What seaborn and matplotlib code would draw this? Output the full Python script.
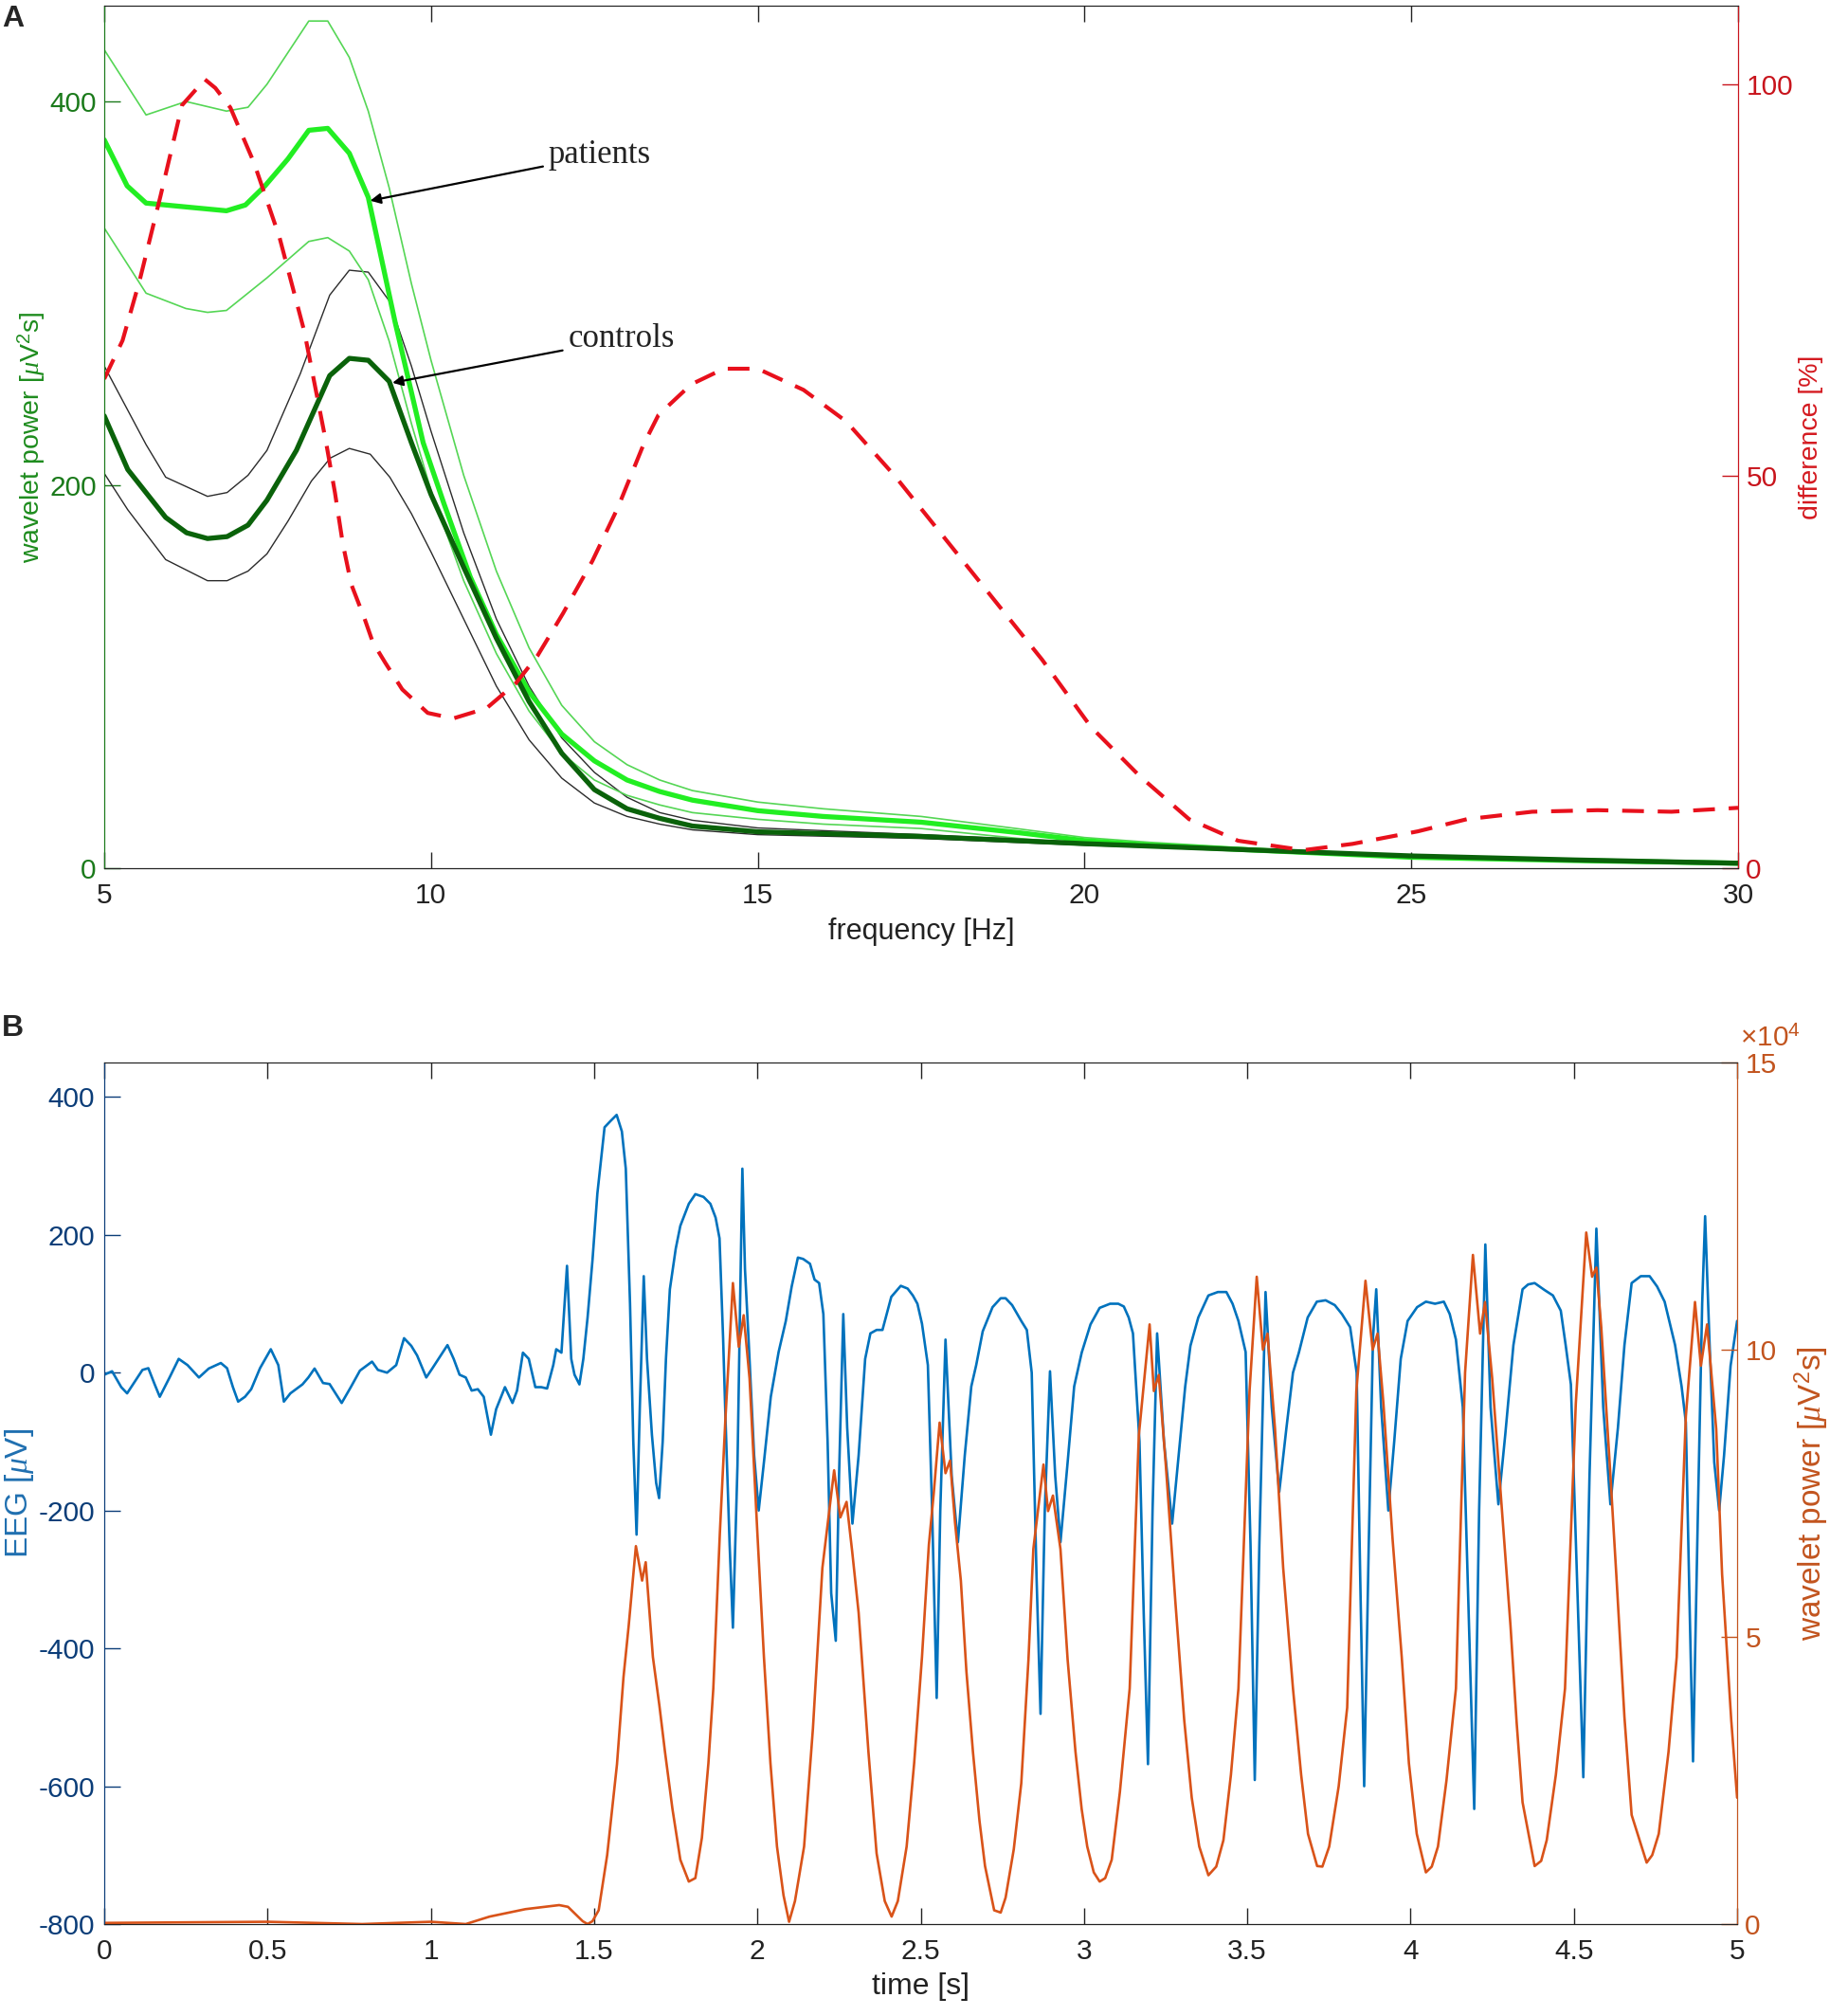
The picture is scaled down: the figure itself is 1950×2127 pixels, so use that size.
import seaborn as sns
import matplotlib.pyplot as plt
import numpy as np

# ---- panel A data: wavelet power spectra ----
pu_f = [5, 5.64, 6.25, 6.87, 7.2, 7.49, 8.13, 8.42, 8.75, 9.04, 9.36, 9.7, 10.0, 10.5, 11.0, 11.5, 12.0, 12.5, 13.0, 13.5, 14.0,
        15, 16, 17.5, 19, 20, 21, 22.5, 25, 27.5, 30]
pu_p = [427, 393, 400, 395, 397, 409, 442, 442, 423, 395, 355, 305, 265, 205, 155, 115, 85, 66, 54, 46, 40.5,
        34.5, 31, 27, 20.5, 16, 13.5, 10.5, 6, 4.2, 2.8]

pm_f = [5, 5.35, 5.64, 6.25, 6.87, 7.16, 7.46, 7.81, 8.13, 8.42, 8.75, 9.04, 9.45, 9.88, 10.2, 10.6, 11.0, 11.5, 12.0, 12.5,
        13.0, 13.5, 14.0, 15, 16, 17.5, 19, 20, 21, 22.5, 25, 27.5, 30]
pm_p = [380, 356, 347, 345, 343, 346, 356, 370, 385, 386, 373, 350, 285, 222, 190, 152, 122, 92, 70, 56,
        46, 40, 35.5, 30, 27, 24, 18.5, 14.4, 12, 9.6, 5.7, 4, 2.6]

pl_f = [5, 5.64, 6.25, 6.58, 6.87, 7.49, 8.13, 8.42, 8.75, 9.04, 9.36, 9.7, 10.0, 10.5, 11.0, 11.5, 12.0, 12.5, 13.0, 13.5,
        14.0, 15, 16, 17.5, 19, 20, 21, 22.5, 25, 27.5, 30]
pl_p = [334, 300, 292, 290, 291, 308, 327, 329, 322, 307, 275, 232, 197, 150, 112, 82, 60, 46, 38, 33,
        29, 25.5, 23, 20.7, 15.5, 12.8, 11, 9, 5.5, 3.8, 2.4]

cu_f = [5, 5.64, 5.94, 6.58, 6.88, 7.2, 7.49, 8.0, 8.45, 8.75, 9.04, 9.36, 9.7, 10.0, 10.5, 11.0, 11.5, 12.0, 12.5, 13.0,
        13.5, 14.0, 15, 17.5, 20, 22.5, 25, 27.5, 30]
cu_p = [262, 221, 204, 194, 196, 205, 218, 258, 299, 312, 311, 296, 262, 228, 175, 130, 95, 68, 50, 37,
        29, 25, 21, 17.5, 13.5, 10, 6.6, 4.5, 2.8]

cm_f = [5, 5.36, 5.94, 6.26, 6.58, 6.88, 7.2, 7.49, 7.94, 8.45, 8.75, 9.04, 9.36, 9.7, 10.0, 10.5, 11.0, 11.5, 12.0, 12.5,
        13.0, 13.5, 14.0, 15, 17.5, 20, 22.5, 25, 27.5, 30]
cm_p = [236, 208, 183, 175, 172, 173, 179, 192, 218, 257, 266, 265, 254, 222, 195, 157, 120, 87, 60, 41,
        31, 26, 22, 19, 16.6, 12.8, 9.6, 6.4, 4.3, 2.6]

cl_f = [5, 5.36, 5.94, 6.58, 6.88, 7.2, 7.49, 7.81, 8.17, 8.46, 8.75, 9.07, 9.37, 9.7, 10.0, 10.5, 11.0, 11.5, 12.0, 12.5,
        13.0, 13.5, 14.0, 15, 17.5, 20, 22.5, 25, 27.5, 30]
cl_p = [206, 187, 161, 150, 150, 155, 164, 181, 202, 214, 219, 216, 204, 185, 165, 130, 95, 67, 47, 34,
        27, 23, 20, 17.5, 15.5, 12, 9.2, 6.2, 4.1, 2.4]

diff_f = [5, 5.28, 5.54, 5.86, 6.19, 6.54, 6.70, 6.93, 7.29, 7.68, 8.06, 8.39, 8.53, 8.65, 8.78, 8.98, 9.11, 9.30, 9.56, 9.95,
          10.34, 10.85, 11.3, 11.63, 12.02, 12.47, 12.86, 13.25, 13.48, 13.98, 14.48, 15.0, 15.7, 16.35, 17.1, 17.85, 18.6,
          19.35, 20.1, 20.85, 21.6, 22.35, 23.35, 24.1, 25.1, 25.85, 26.85, 27.85, 28.98, 30]
diff_d = [62.4, 67.3, 74.9, 85.7, 97.3, 100.6, 99.5, 97, 90, 80.5, 68.5, 54.5, 47.9, 41.4, 36.2, 31.9, 28.8, 26.2, 22.8, 19.8,
          19.1, 20.4, 23.6, 27.1, 32.5, 39.2, 46, 54, 57.8, 61.7, 63.7, 63.7, 61, 57, 50, 42.2, 34.4,
          26.6, 18, 11.7, 6.25, 3.5, 2.3, 3.1, 4.7, 6.25, 7.2, 7.4, 7.2, 7.7]

# ---- panel B data: EEG trace (uV) ----
eeg_t = [0, 0.024, 0.052, 0.07, 0.117, 0.135, 0.154, 0.17, 0.2, 0.228, 0.255, 0.29, 0.32, 0.357, 0.376, 0.394, 0.41,
         0.431, 0.45, 0.477, 0.51, 0.533, 0.55, 0.57, 0.607, 0.625, 0.644, 0.67, 0.69, 0.727, 0.755, 0.783, 0.82,
         0.838, 0.866, 0.894, 0.918, 0.94, 0.958, 0.986, 1.005, 1.051, 1.07, 1.088, 1.107, 1.125, 1.144, 1.162, 1.184,
         1.2, 1.227, 1.25, 1.264, 1.282, 1.3, 1.32, 1.338, 1.356, 1.375, 1.384,
         1.40, 1.417, 1.43, 1.44, 1.455, 1.467, 1.48, 1.495, 1.51, 1.532, 1.55, 1.569, 1.585, 1.597, 1.61, 1.62, 1.630,
         1.64, 1.652, 1.662, 1.677, 1.69, 1.699, 1.71, 1.72, 1.732, 1.75, 1.764, 1.79, 1.81, 1.835, 1.856, 1.872, 1.884,
         1.895, 1.902, 1.915, 1.925, 1.932, 1.939, 1.947, 1.954, 1.962, 1.973, 1.99, 2.004, 2.02, 2.041, 2.065, 2.087,
         2.105, 2.124, 2.14, 2.161, 2.175, 2.189, 2.202, 2.215, 2.226, 2.24, 2.25, 2.263, 2.275, 2.291, 2.31, 2.33,
         2.346, 2.365, 2.383, 2.41, 2.439, 2.46, 2.476, 2.49, 2.504, 2.522, 2.535, 2.549, 2.56, 2.576, 2.595, 2.614,
         2.635, 2.655, 2.67, 2.69, 2.72, 2.745, 2.76, 2.78, 2.808, 2.825, 2.84, 2.855, 2.867, 2.88, 2.896, 2.912, 2.928,
         2.95, 2.97, 2.993, 3.02, 3.048, 3.08, 3.105, 3.122, 3.137, 3.15, 3.17, 3.183, 3.196, 3.21, 3.224, 3.245, 3.27,
         3.29, 3.31, 3.326, 3.35, 3.381, 3.41, 3.436, 3.455, 3.473, 3.495, 3.51, 3.523, 3.537, 3.556, 3.575, 3.598,
         3.62, 3.64, 3.658, 3.685, 3.713, 3.74, 3.768, 3.79, 3.815, 3.835, 3.846, 3.858, 3.872, 3.885, 3.895, 3.91,
         3.932, 3.95, 3.97, 3.991, 4.02, 4.047, 4.075, 4.102, 4.12, 4.139, 4.16, 4.178, 4.195, 4.21, 4.229, 4.245,
         4.269, 4.29, 4.315, 4.343, 4.36, 4.38, 4.41, 4.436, 4.46, 4.475, 4.491, 4.51, 4.529, 4.548, 4.569, 4.59,
         4.612, 4.635, 4.655, 4.677, 4.705, 4.732, 4.755, 4.778, 4.81, 4.83, 4.843, 4.855, 4.865, 4.88, 4.893, 4.902,
         4.915, 4.93, 4.945, 4.96, 4.98, 5.0]
eeg_v = [-3, 2, -21, -30, 4, 6.5, -16.5, -35, -7, 20, 11, -7, 6, 14, 6.5, -21, -42,
         -35, -24, 6.5, 34, 11, -42, -30, -17, -7, 6, -15, -16.5, -44, -21, 3, 16,
         4, 0, 11, 50, 39, 25, -7, 6.5, 40, 20, -3, -7, -26, -24, -35, -90,
         -53, -21, -44, -26, 29, 20, -21, -21, -23, 11, 34,
         29, 155, 20, -3, -17, 20, 80, 163, 260, 356, 365, 374, 350, 296, 100, -100, -235,
         -50, 140, 20, -90, -160, -182, -100, 20, 121, 180, 213, 245, 259, 255, 245, 225, 195,
         50, -62, -250, -370, -250, -135, 100, 296, 150, 48, -120, -200, -130, -35, 30, 75,
         125, 167, 165, 158, 135, 130, 85, -100, -320, -389, -150, 85, -80, -219, -120, 20,
         57, 62, 62, 110, 126, 122, 112, 100, 71, 11, -200, -472, -200, 48, -150, -246,
         -120, -20, 11, 60, 95, 108, 108, 98, 75, 62, 0, -300, -495, -200, 2, -150, -246,
         -130, -20, 29, 70, 94, 100, 100, 96, 80, 57, -100, -350, -568, -200, 57, -100, -219,
         -120, -20, 39, 80, 112, 117, 117, 100, 75, 30, -250, -591, -250, 117, -50, -173,
         -80, 0, 29, 80, 103, 105, 98, 85, 66, 0, -300, -600, -250, 50, 121, -50,
         -200, -100, 20, 75, 95, 103, 100, 103, 85, 48, -50, -350, -633, -200, 186, -50,
         -191, -90, 40, 121, 128, 130, 120, 112, 90, 40, -17, -300, -587, -150, 209, -50,
         -191, -80, 40, 130, 140, 140, 125, 103, 40, -20, -72, -350, -564, -200, 100, 227,
         50, -130, -200, -120, 10, 75]

# ---- panel B data: wavelet power (x 1e4 uV^2 s) ----
pow_t = [0, 0.25, 0.5, 0.79, 1.0, 1.107, 1.18, 1.29, 1.393, 1.42, 1.44, 1.465, 1.48, 1.495, 1.514, 1.54, 1.57, 1.59,
         1.606, 1.628, 1.647, 1.658, 1.68, 1.7, 1.717, 1.74, 1.764, 1.79, 1.81, 1.83, 1.85, 1.865, 1.885, 1.902, 1.925,
         1.943, 1.958, 1.976, 2.0, 2.02, 2.04, 2.06, 2.08, 2.097, 2.115, 2.143, 2.17, 2.199, 2.235, 2.254, 2.273, 2.29,
         2.31, 2.34, 2.365, 2.39, 2.411, 2.43, 2.457, 2.48, 2.504, 2.525, 2.54, 2.558, 2.576, 2.59, 2.605, 2.623, 2.64,
         2.66, 2.68, 2.697, 2.725, 2.745, 2.76, 2.785, 2.808, 2.83, 2.845, 2.876, 2.89, 2.905, 2.928, 2.95, 2.974,
         2.993, 3.01, 3.03, 3.048, 3.065, 3.085, 3.11, 3.14, 3.168, 3.201, 3.214, 3.229, 3.251, 3.28, 3.307, 3.33,
         3.353, 3.381, 3.405, 3.427, 3.45, 3.473, 3.507, 3.529, 3.548, 3.562, 3.585, 3.61, 3.64, 3.665, 3.686, 3.714,
         3.73, 3.751, 3.78, 3.806, 3.834, 3.862, 3.884, 3.899, 3.917, 3.945, 3.973, 3.995, 4.019, 4.047, 4.065, 4.084,
         4.11, 4.139, 4.167, 4.191, 4.213, 4.228, 4.25, 4.28, 4.306, 4.325, 4.343, 4.38, 4.4, 4.417, 4.445, 4.473,
         4.506, 4.538, 4.556, 4.569, 4.584, 4.61, 4.63, 4.655, 4.677, 4.723, 4.74, 4.76, 4.79, 4.815, 4.843, 4.871,
         4.889, 4.908, 4.936, 4.954, 4.982, 5.0]
pow_w = [0.02, 0.03, 0.04, 0.0, 0.04, 0.0, 0.13, 0.26, 0.33, 0.3, 0.19, 0.05, 0.0, 0.05, 0.24, 1.2, 2.78, 4.3,
         5.2, 6.58, 5.98, 6.3, 4.65, 3.8, 3.0, 2.0, 1.12, 0.74, 0.8, 1.5, 2.8, 4.1, 6.8, 8.79, 11.16,
         10.05, 10.6, 9.5, 6.8, 4.65, 2.8, 1.35, 0.5, 0.04, 0.4, 1.35, 3.4, 6.2, 7.9, 7.08, 7.35, 6.5,
         5.42, 3.0, 1.23, 0.4, 0.13, 0.4, 1.35, 2.8, 4.65, 6.6, 7.5, 8.73, 7.85, 8.07, 7.0, 5.98, 4.4,
         3.0, 1.8, 1.01, 0.24, 0.2, 0.46, 1.3, 2.45, 4.6, 6.53, 8.0, 7.19, 7.46, 6.53, 4.6, 3.0,
         2.0, 1.35, 0.9, 0.74, 0.8, 1.12, 2.3, 4.1, 8.51, 10.44, 9.28, 9.56, 7.96, 5.6, 3.55, 2.2,
         1.35, 0.85, 1.0, 1.46, 2.6, 4.1, 9.28, 11.27, 10.0, 10.28, 8.62, 6.2, 4.1, 2.6, 1.57, 1.01,
         1.0, 1.35, 2.4, 3.77, 9.28, 11.2, 10.0, 10.28, 9.06, 6.7, 4.65, 2.8, 1.57, 0.9, 1.0, 1.35,
         2.5, 4.1, 9.6, 11.65, 10.28, 10.83, 9.5, 7.2, 5.2, 3.5, 2.12, 1.01, 1.1, 1.46, 2.6, 4.1,
         9.06, 12.04, 11.27, 11.43, 10.39, 8.0, 6.09, 3.6, 1.9, 1.07, 1.2, 1.57, 3.0, 4.65, 8.84, 10.83,
         9.72, 10.44, 8.62, 6.09, 3.55, 2.2]
pow_w = [w * 1e4 for w in pow_w]

# ---- styling ----
sns.set_style("ticks")
plt.rcParams['font.family'] = ['Liberation Sans', 'DejaVu Sans']
plt.rcParams['mathtext.fontset'] = 'custom'
plt.rcParams['mathtext.rm'] = 'Liberation Sans'
plt.rcParams['mathtext.it'] = 'Liberation Serif:italic'

W, H = 1950, 2127
fig = plt.figure(figsize=(W / 100, H / 100), dpi=100)

def box(x0, y0, x1, y1):
    return [x0 / W, 1 - y1 / H, (x1 - x0) / W, (y1 - y0) / H]

tick_fs = 21.5
green_ax = '#1b7a1b'
red_ax = '#c8141c'

# ================= panel A =================
axA = fig.add_axes(box(110, 6, 1834, 916))
axA2 = axA.twinx()

sns.lineplot(x=cu_f, y=cu_p, ax=axA, color='#2b2b2b', linewidth=1.0, estimator=None, sort=False)
sns.lineplot(x=cl_f, y=cl_p, ax=axA, color='#2b2b2b', linewidth=1.0, estimator=None, sort=False)
sns.lineplot(x=pu_f, y=pu_p, ax=axA, color='#55d655', linewidth=1.2, estimator=None, sort=False)
sns.lineplot(x=pl_f, y=pl_p, ax=axA, color='#55d655', linewidth=1.2, estimator=None, sort=False)
sns.lineplot(x=pm_f, y=pm_p, ax=axA, color='#22ee22', linewidth=3.8, estimator=None, sort=False)
sns.lineplot(x=cm_f, y=cm_p, ax=axA, color='#0a620a', linewidth=3.8, estimator=None, sort=False)
sns.lineplot(x=diff_f, y=diff_d, ax=axA2, color='#e8101c', linewidth=3.0, estimator=None, sort=False,
             linestyle=(0, (5.5, 3.5)))

axA.set_xlim(5, 30)
axA.set_ylim(0, 450)
axA2.set_ylim(0, 110)
axA.set_xticks([5, 10, 15, 20, 25, 30])
axA.set_yticks([0, 200, 400])
axA2.set_yticks([0, 50, 100])

axA.tick_params(axis='x', direction='in', length=12, width=1, top=True, labelsize=tick_fs, pad=11, colors='#222222')
axA.tick_params(axis='y', direction='in', length=12, width=1, labelsize=tick_fs, pad=6, colors=green_ax)
axA2.tick_params(axis='y', direction='in', length=12, width=1, labelsize=tick_fs, pad=6, colors=red_ax)
for a in (axA, axA2):
    a.spines['top'].set_color('#222222')
    a.spines['bottom'].set_color('#222222')
    a.spines['left'].set_color(green_ax)
    a.spines['right'].set_color(red_ax)

axA.set_xlabel('frequency [Hz]', fontsize=22, color='#222222')
axA.xaxis.set_label_coords(0.5, -0.057)
axA.set_ylabel(r'wavelet power [$\mu$V$^2$s]', fontsize=20.5, color='#1e8c1e')
axA.yaxis.set_label_coords(-0.035, 0.5)
axA2.set_ylabel('difference [%]', fontsize=20.5, color='#d41a20')
axA2.yaxis.set_label_coords(1.037, 0.5)

arrow = dict(arrowstyle='-|>', color='black', lw=1.6, mutation_scale=16)
axA.annotate('patients', xy=(9.03, 348), xytext=(11.8, 372), fontsize=25, family='Liberation Serif',
             color='#222222', va='center', ha='left', arrowprops=arrow)
axA.annotate('controls', xy=(9.37, 253), xytext=(12.1, 276), fontsize=25, family='Liberation Serif',
             color='#222222', va='center', ha='left', arrowprops=arrow)

fig.text(2 / W, 1 - 20 / H, 'A', fontsize=23, fontweight='bold', va='center', ha='left')

# ================= panel B =================
blue = '#0072BD'
orange = '#D95319'
navy = '#0b3d78'
brown = '#c2541e'

axB = fig.add_axes(box(110, 1121, 1833, 2030))
axB2 = axB.twinx()
sns.lineplot(x=eeg_t, y=eeg_v, ax=axB, color=blue, linewidth=1.9, estimator=None, sort=False)
sns.lineplot(x=pow_t, y=pow_w, ax=axB2, color=orange, linewidth=1.9, estimator=None, sort=False)

axB.set_xlim(0, 5)
axB.set_ylim(-800, 450)
axB2.set_ylim(0, 15e4)
axB.set_xticks(np.arange(0, 5.01, 0.5))
axB.set_xticklabels(['0', '0.5', '1', '1.5', '2', '2.5', '3', '3.5', '4', '4.5', '5'])
axB.set_yticks([-800, -600, -400, -200, 0, 200, 400])
axB.set_yticklabels(['-800', '-600', '-400', '-200', '0', '200', '400'])
axB2.set_yticks([0, 5e4, 10e4, 15e4])
axB2.set_yticklabels(['0', '5', '10', '15'])

axB.tick_params(axis='x', direction='in', length=12, width=1, top=True, labelsize=tick_fs, pad=11, colors='#222222')
axB.tick_params(axis='y', direction='in', length=12, width=1, labelsize=tick_fs, pad=7, colors=navy)
axB2.tick_params(axis='y', direction='in', length=12, width=1, labelsize=tick_fs, pad=6, colors=brown)
for a in (axB, axB2):
    a.spines['top'].set_color('#222222')
    a.spines['bottom'].set_color('#222222')
    a.spines['left'].set_color(navy)
    a.spines['right'].set_color(brown)

axB.set_xlabel('time [s]', fontsize=23, color='#222222')
axB.xaxis.set_label_coords(0.5, -0.056)
axB.set_ylabel(r'EEG [$\mu$V]', fontsize=24, color='#1f6fb0')
axB.yaxis.set_label_coords(-0.042, 0.5)
axB2.set_ylabel(r'wavelet power [$\mu$V$^2$s]', fontsize=24, color=brown)
axB2.yaxis.set_label_coords(1.034, 0.5)
axB2.text(1.002, 1.012, r'$\times$10$^4$', transform=axB2.transAxes, fontsize=tick_fs, color=brown,
          ha='left', va='bottom')

fig.text(2 / W, 1 - 1085 / H, 'B', fontsize=23, fontweight='bold', va='center', ha='left')

fig.savefig('out.png', dpi=100)
